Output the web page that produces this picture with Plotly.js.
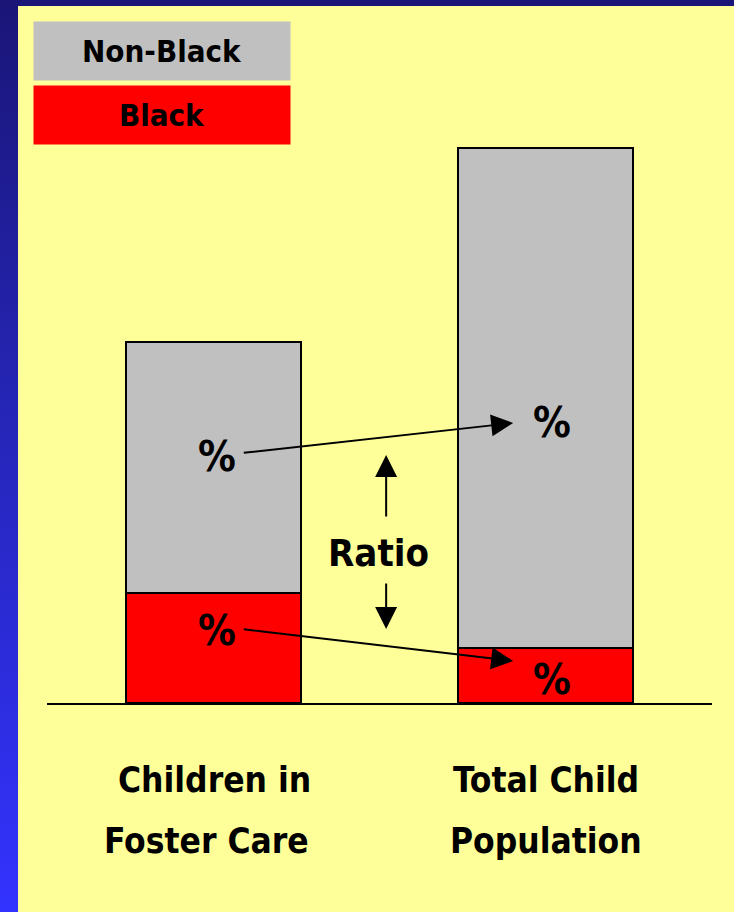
<!DOCTYPE html>
<html>
<head>
<meta charset="utf-8">
<script src="https://cdn.plot.ly/plotly-3.0.1.min.js"></script>
<style>
  html, body { margin: 0; padding: 0; width: 734px; height: 912px; overflow: hidden; }
  body { background: linear-gradient(to bottom, #1a1577 0%, #2424b0 40%, #3333ff 100%); position: relative; }
  #chart { position: absolute; left: 18px; top: 6px; width: 716px; height: 906px; }
</style>
</head>
<body>
<div id="chart"></div>
<script>
// ---- data ----
const categories = ["Children in Foster Care", "Total Child Population"];
const labelLine1 = ["Children in", "Total Child"];
const labelLine2 = ["Foster Care", "Population"];
const seriesNames = ["Black", "Non-Black"];
const blackValues = [19.8, 9.9];
const nonBlackValues = [45.2, 90.1];
const percentLabel = "%";
const ratioLabel = "Ratio";

// ---- styling ----
const FONT = "DejaVu Sans Condensed, DejaVu Sans, sans-serif";
const GRAY = "#C0C0C0";
const RED = "#FF0000";
const xIdx = categories.map((c, i) => i);

const traces = [
  {
    type: "bar", name: seriesNames[0], x: xIdx, y: blackValues,
    width: 0.526, marker: { color: RED, line: { color: "#000", width: 2 } },
    hoverinfo: "skip"
  },
  {
    type: "bar", name: seriesNames[1], x: xIdx, y: nonBlackValues,
    width: 0.526, marker: { color: GRAY, line: { color: "#000", width: 2 } },
    hoverinfo: "skip"
  }
];

const anns = [];
// legend boxes
anns.push({ xref: "paper", yref: "paper", x: 0.1729, y: 0.9546, xanchor: "center", yanchor: "middle",
  text: "<b>" + seriesNames[1] + "</b>", showarrow: false, bgcolor: GRAY, width: 256, height: 58,
  borderpad: 0, font: { family: FONT, size: 31, color: "#000" } });
anns.push({ xref: "paper", yref: "paper", x: 0.1729, y: 0.8609, xanchor: "center", yanchor: "middle",
  text: "<b>" + seriesNames[0] + "</b>", showarrow: false, bgcolor: RED, width: 256, height: 58,
  borderpad: 0, font: { family: FONT, size: 31, color: "#000" } });

// category labels
const l1x = [0.004, 0.0];
const l2x = [-0.02, 0.0];
xIdx.forEach(i => {
  anns.push({ xref: "x", yref: "paper", x: i + l1x[i], y: -0.1127, xanchor: "center", yanchor: "middle",
    text: "<b>" + labelLine1[i] + "</b>", showarrow: false, font: { family: FONT, size: 35, color: "#000" } });
  anns.push({ xref: "x", yref: "paper", x: i + l2x[i], y: -0.2020, xanchor: "center", yanchor: "middle",
    text: "<b>" + labelLine2[i] + "</b>", showarrow: false, font: { family: FONT, size: 35, color: "#000" } });
});

// percent labels
const pct = [[0.01, 44.5], [0.01, 13.0], [1.02, 50.5], [1.02, 4.3]];
pct.forEach(p => {
  anns.push({ xref: "x", yref: "y", x: p[0], y: p[1], xanchor: "center", yanchor: "middle",
    text: "<b>" + percentLabel + "</b>", showarrow: false, font: { family: FONT, size: 42, color: "#000" } });
});

// ratio label
anns.push({ xref: "x", yref: "y", x: 0.498, y: 27.0, xanchor: "center", yanchor: "middle",
  text: "<b>" + ratioLabel + "</b>", showarrow: false, font: { family: FONT, size: 38, color: "#000" } });

// arrows
function arrow(tx, ty, fx, fy) {
  anns.push({ xref: "x", yref: "y", axref: "x", ayref: "y", x: tx, y: ty, ax: fx, ay: fy,
    text: "", showarrow: true, arrowhead: 2, arrowsize: 2.2, arrowwidth: 2, arrowcolor: "#000",
    standoff: 0, startstandoff: 0 });
}
arrow(0.902, 50.45, 0.0872, 45.05);
arrow(0.902, 7.57, 0.0872, 13.33);
arrow(0.520, 44.68, 0.520, 33.33);
arrow(0.520, 13.33, 0.520, 21.8);

const layout = {
  width: 716, height: 906,
  margin: { l: 29, r: 22, t: 14, b: 209 },
  paper_bgcolor: "#FFFF99", plot_bgcolor: "rgba(0,0,0,0)",
  barmode: "stack", showlegend: false,
  xaxis: { range: [-0.5, 1.5], showticklabels: false, showgrid: false, zeroline: false,
    showline: true, linecolor: "#000", linewidth: 2, ticks: "", fixedrange: true },
  yaxis: { range: [0, 123.06], visible: false, fixedrange: true },
  annotations: anns
};

Plotly.newPlot("chart", traces, layout, { staticPlot: true, displayModeBar: false });
</script>
</body>
</html>
